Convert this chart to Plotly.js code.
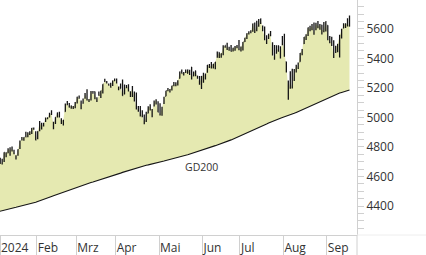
<!DOCTYPE html>
<html><head><meta charset="utf-8">
<script src="https://cdn.plot.ly/plotly-3.0.1.min.js"></script>
<style>html,body{margin:0;padding:0;background:#fff}#chart{width:426px;height:255px}</style>
</head><body><div id="chart"></div>
<script>
const dates = ["2024-01-03","2024-01-04","2024-01-05","2024-01-08","2024-01-09","2024-01-10","2024-01-11","2024-01-12","2024-01-16","2024-01-17","2024-01-18","2024-01-19","2024-01-22","2024-01-23","2024-01-24","2024-01-25","2024-01-26","2024-01-29","2024-01-30","2024-01-31",
"2024-02-01","2024-02-02","2024-02-05","2024-02-06","2024-02-07","2024-02-08","2024-02-09","2024-02-12","2024-02-13","2024-02-14","2024-02-15","2024-02-16","2024-02-20","2024-02-21","2024-02-22","2024-02-23","2024-02-26","2024-02-27","2024-02-28","2024-02-29",
"2024-03-01","2024-03-04","2024-03-05","2024-03-06","2024-03-07","2024-03-08","2024-03-11","2024-03-12","2024-03-13","2024-03-14","2024-03-15","2024-03-18","2024-03-19","2024-03-20","2024-03-21","2024-03-22","2024-03-25","2024-03-26","2024-03-27","2024-03-28",
"2024-04-01","2024-04-02","2024-04-03","2024-04-04","2024-04-05","2024-04-08","2024-04-09","2024-04-10","2024-04-11","2024-04-12","2024-04-15","2024-04-16","2024-04-17","2024-04-18","2024-04-19","2024-04-22","2024-04-23","2024-04-24","2024-04-25","2024-04-26","2024-04-29","2024-04-30",
"2024-05-01","2024-05-02","2024-05-03","2024-05-06","2024-05-07","2024-05-08","2024-05-09","2024-05-10","2024-05-13","2024-05-14","2024-05-15","2024-05-16","2024-05-17","2024-05-20","2024-05-21","2024-05-22","2024-05-23","2024-05-24","2024-05-28","2024-05-29","2024-05-30","2024-05-31",
"2024-06-03","2024-06-04","2024-06-05","2024-06-06","2024-06-07","2024-06-10","2024-06-11","2024-06-12","2024-06-13","2024-06-14","2024-06-17","2024-06-18","2024-06-20","2024-06-21","2024-06-24","2024-06-25","2024-06-26","2024-06-27","2024-06-28",
"2024-07-01","2024-07-02","2024-07-03","2024-07-05","2024-07-08","2024-07-09","2024-07-10","2024-07-11","2024-07-12","2024-07-15","2024-07-16","2024-07-17","2024-07-18","2024-07-19","2024-07-22","2024-07-23","2024-07-24","2024-07-25","2024-07-26","2024-07-29","2024-07-30","2024-07-31",
"2024-08-01","2024-08-02","2024-08-05","2024-08-06","2024-08-07","2024-08-08","2024-08-09","2024-08-12","2024-08-13","2024-08-14","2024-08-15","2024-08-16","2024-08-19","2024-08-20","2024-08-21","2024-08-22","2024-08-23","2024-08-26","2024-08-27","2024-08-28","2024-08-29","2024-08-30",
"2024-09-03","2024-09-04","2024-09-05","2024-09-06","2024-09-09","2024-09-10","2024-09-11","2024-09-12","2024-09-13","2024-09-16","2024-09-17","2024-09-18"];

const opens = [4725,4698,4690,4703,4742,4760,4793,4792,4772,4740,4760,4797,4853,4856,4888,4886,4888,4892,4925,4900,
4862,4916,4957,4951,4974,4995,5004,5027,4967,4976,5004,5032,4989,4964,5039,5093,5093,5074,5067,5085,
5098,5131,5110,5109,5132,5160,5111,5134,5173,5175,5123,5154,5139,5181,5254,5243,5220,5228,5226,5248,
5258,5204,5195,5244,5158,5212,5217,5158,5172,5171,5150,5065,5068,5032,5006,4988,5028,5084,5020,5084,5115,5097,
5030,5050,5123,5143,5188,5173,5190,5225,5233,5222,5264,5310,5303,5306,5298,5319,5341,5282,5316,5279,5260,5244,
5283,5278,5314,5358,5343,5341,5353,5409,5441,5424,5431,5477,5499,5466,5459,5461,5460,5473,5488,
5471,5461,5514,5537,5572,5584,5592,5635,5591,5638,5644,5610,5608,5544,5537,5566,5505,5429,5433,5476,5479,5505,
5537,5377,5151,5206,5294,5253,5313,5350,5377,5443,5500,5531,5559,5602,5604,5637,5603,5640,5602,5625,5607,5613,
5623,5507,5521,5507,5442,5490,5496,5557,5604,5616,5655,5641];

const highs = [4729,4727,4721,4764,4765,4791,4798,4803,4782,4744,4785,4843,4868,4866,4903,4899,4907,4929,4932,4907,
4906,4976,4964,4964,5000,5000,5031,5048,4970,5002,5033,5038,4994,4983,5094,5111,5098,5081,5078,5105,
5140,5149,5114,5128,5165,5190,5125,5179,5179,5176,5137,5175,5180,5225,5261,5247,5229,5235,5250,5264,
5263,5208,5229,5256,5223,5219,5225,5178,5212,5175,5168,5077,5077,5049,5019,5038,5076,5089,5057,5114,5123,5110,
5096,5073,5140,5181,5200,5192,5215,5240,5238,5251,5311,5325,5306,5325,5324,5323,5342,5311,5316,5283,5280,5281,
5303,5298,5355,5362,5376,5362,5376,5447,5442,5433,5489,5487,5506,5478,5490,5472,5483,5490,5524,
5480,5510,5539,5570,5584,5590,5636,5642,5655,5666,5669,5622,5615,5557,5567,5585,5509,5491,5488,5488,5480,5551,
5566,5377,5250,5312,5330,5328,5357,5372,5436,5463,5545,5563,5608,5621,5632,5643,5641,5652,5632,5627,5646,5651,
5624,5552,5546,5523,5485,5497,5560,5600,5637,5637,5671,5690];

const lows = [4699,4687,4682,4699,4730,4757,4740,4769,4751,4715,4741,4786,4844,4842,4866,4866,4881,4887,4917,4845,
4853,4907,4918,4939,4969,4988,4999,5016,4920,4956,4999,4999,4955,4946,5038,5082,5068,5058,5057,5062,
5094,5127,5056,5093,5127,5115,5104,5114,5161,5123,5104,5146,5132,5162,5240,5229,5216,5203,5213,5246,
5230,5184,5195,5146,5157,5197,5175,5139,5139,5107,5053,5039,5007,5001,4953,4969,5028,5047,5002,5074,5088,5035,
5013,5011,5091,5143,5178,5169,5183,5211,5211,5216,5264,5297,5284,5300,5297,5287,5257,5278,5278,5262,5222,5192,
5234,5257,5303,5335,5331,5331,5327,5404,5403,5404,5421,5471,5456,5452,5447,5446,5452,5469,5455,
5447,5453,5510,5531,5562,5570,5580,5571,5583,5614,5632,5584,5523,5497,5531,5550,5419,5390,5433,5445,5399,5489,
5410,5305,5119,5194,5195,5247,5304,5328,5377,5421,5497,5525,5552,5584,5591,5560,5591,5603,5594,5561,5577,5581,
5522,5503,5484,5403,5436,5442,5406,5535,5604,5605,5615,5615];

const closes = [4705,4689,4697,4764,4757,4783,4780,4784,4766,4739,4781,4840,4850,4865,4869,4894,4891,4928,4925,4846,
4906,4959,4943,4954,4995,4998,5027,5022,4953,5001,5030,5006,4976,4982,5087,5089,5070,5078,5070,5096,
5137,5131,5079,5105,5157,5124,5118,5175,5165,5150,5117,5149,5179,5225,5242,5234,5218,5204,5248,5254,
5244,5206,5211,5147,5204,5202,5210,5161,5199,5123,5062,5051,5022,5011,4967,5011,5071,5072,5048,5100,5116,5036,
5018,5064,5128,5181,5188,5188,5214,5223,5221,5247,5308,5297,5303,5308,5321,5307,5268,5305,5306,5267,5235,5278,
5283,5291,5354,5353,5347,5361,5375,5421,5434,5432,5473,5487,5473,5465,5448,5469,5478,5483,5460,
5475,5509,5537,5567,5573,5577,5634,5585,5615,5631,5667,5588,5545,5505,5564,5556,5427,5399,5459,5464,5436,5522,
5447,5347,5186,5240,5200,5319,5344,5344,5434,5455,5543,5554,5608,5597,5621,5571,5635,5617,5626,5592,5592,5648,
5529,5520,5503,5408,5471,5496,5554,5596,5626,5633,5635,5618];

const gd200 = [4362,4366,4369,4372,4376,4379,4382,4385,4389,4392,4395,4398,4402,4405,4408,4411,4415,4418,4421,
4426,4431,4435,4440,4445,4450,4455,4459,4464,4469,4474,4478,4483,4488,4493,4497,4502,
4507,4512,4517,4522,4527,4532,4537,4542,4547,4552,
4556,4560,4563,4567,4571,4575,4579,4583,4587,4590,4594,4598,
4603,4608,4613,4618,4623,4628,4632,4637,4642,4647,4652,4657,
4660,4663,4667,4670,4673,4676,4679,4683,4686,4689,4692,
4695,4699,4702,4705,4709,4712,4715,4719,4722,4725,4729,4732,
4736,4740,4744,4747,4751,
4755,4760,4764,4769,4773,4778,4782,4787,4791,4796,4800,4805,4809,4814,4818,4823,4827,
4832,4838,4843,4848,4854,4859,4864,4870,4875,4880,4886,4891,
4898,4904,4911,4917,4924,4930,4937,4943,4950,4956,4963,4969,4976,
4981,4985,4990,4995,5000,5004,5009,5014,5019,5023,5028,
5034,5040,5047,5053,5059,5065,5071,5078,5084,5090,
5096,5102,5109,5115,5121,5127,5133,5140,5146,5152,
5156,5160,5165,5169,5173,5177,5182,5186];

const monthLabels = ["2024","Feb","Mrz","Apr","Mai","Jun","Jul","Aug","Sep"];
const smaLabel = "GD200";

const xs = dates.map((d, i) => i);
const xRange = [0.9, 181.8];
const yRange = [4204, 5795];

// month boundaries: halfway before the first trading day of each month
const tickvals = [xRange[0]];
for (let i = 1; i < dates.length; i++) {
  if (dates[i].slice(5, 7) !== dates[i - 1].slice(5, 7)) tickvals.push(i - 0.5);
}

const ink = '#151515';
const traces = [
  {type:'scatter', mode:'lines', x: xs, y: gd200, line:{width:0, color:ink}, hoverinfo:'skip', xaxis:'x', yaxis:'y'},
  {type:'scatter', mode:'lines', x: xs, y: closes, line:{width:0}, fill:'tonexty', fillcolor:'#e5e9b1', hoverinfo:'skip', xaxis:'x', yaxis:'y'},
  {type:'ohlc', x: xs, open: opens, high: highs, low: lows, close: closes, xaxis:'x2', yaxis:'y2',
   increasing:{line:{color:ink, width:1.3}}, decreasing:{line:{color:ink, width:1.3}}, tickwidth:0.3, hoverinfo:'skip'},
  {type:'scatter', mode:'lines', x: xs, y: gd200, line:{width:1.1, color:ink}, hoverinfo:'skip', xaxis:'x2', yaxis:'y2'}
];

const axisGrey = '#d0d0d0';
const layout = {
  width:426, height:255, margin:{l:0, r:69, t:0, b:20, pad:0},
  paper_bgcolor:'#fff', plot_bgcolor:'#fff', showlegend:false,
  font:{family:'"Open Sans", "DejaVu Sans", sans-serif', size:12, color:'#333'},
  xaxis:{range:xRange, tickmode:'array', tickvals:tickvals, ticktext:monthLabels,
    ticks:'outside', ticklen:20, tickcolor:axisGrey, tickwidth:1,
    showline:true, linecolor:axisGrey, linewidth:1, showgrid:false, zeroline:false,
    ticklabelposition:'outside right', ticklabelstandoff:2,
    tickfont:{size:12, color:'#333'}, rangeslider:{visible:false}, fixedrange:true},
  yaxis:{range:yRange, side:'right', tick0:0, dtick:200, ticks:'outside', ticklen:6,
    tickcolor:axisGrey, showline:true, linecolor:axisGrey, linewidth:1, showgrid:false, zeroline:false,
    tickfont:{size:12, color:'#333'},
    minor:{dtick:50, tick0:0, ticks:'outside', ticklen:6, tickcolor:axisGrey, showgrid:false},
    fixedrange:true},
  xaxis2:{overlaying:'x', range:xRange, visible:false, rangeslider:{visible:false}, fixedrange:true},
  yaxis2:{overlaying:'y', range:yRange, visible:false, side:'right', fixedrange:true},
  annotations:[{text:smaLabel, xref:'x', yref:'y', x:103.1, y:4664, showarrow:false,
    font:{size:10.5, color:'#333'}, xanchor:'center', yanchor:'middle'}],
  shapes:[
    {type:'line', xref:'paper', yref:'paper', x0:1, x1:1, y0:-20/235, y1:0, line:{color:axisGrey, width:1}},
    {type:'line', xref:'paper', yref:'paper', x0:1, x1:1.2, y0:0, y1:0, line:{color:'#eeeeee', width:1}}
  ]
};

Plotly.newPlot('chart', traces, layout, {staticPlot:true, displayModeBar:false});
</script></body></html>
